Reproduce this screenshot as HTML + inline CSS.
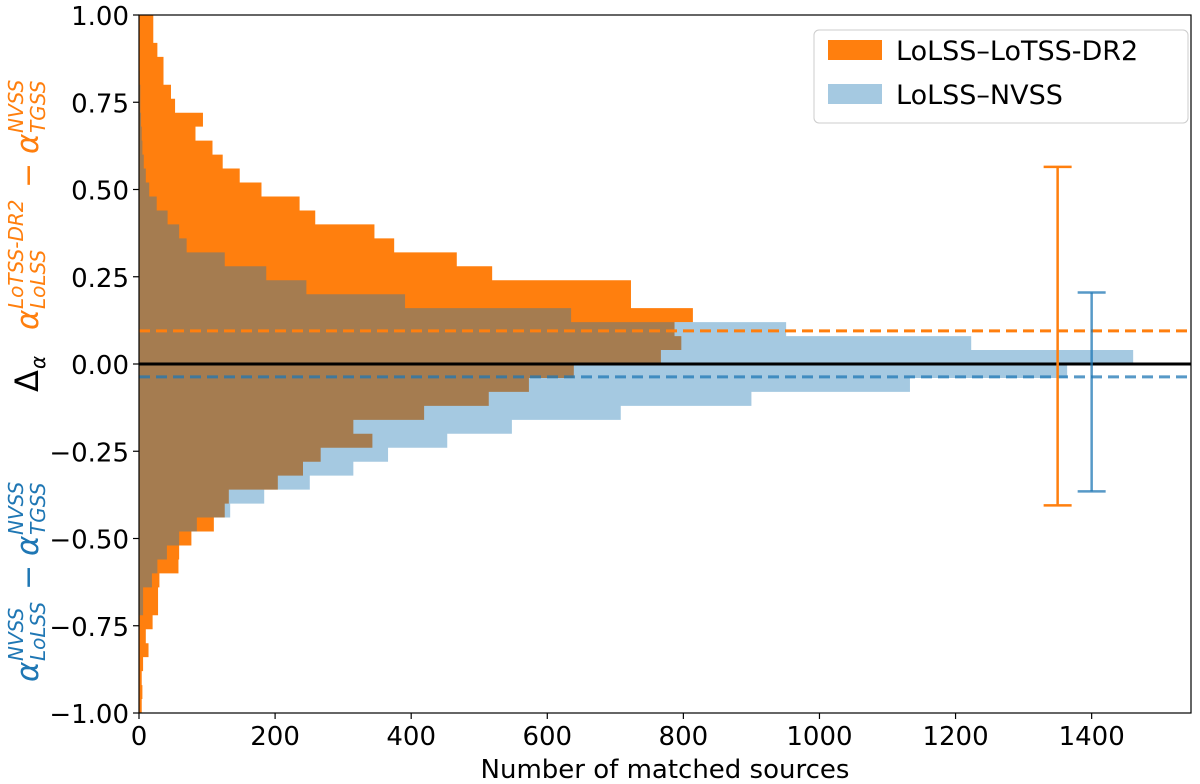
<!DOCTYPE html>
<html><head><meta charset="utf-8"><style>
body{margin:0;background:#fff;}
svg{display:block;font-family:"DejaVu Sans","Liberation Sans",sans-serif;}
</style></head><body>
<svg id="chart" width="1200" height="784" viewBox="0 0 1200 784" xmlns="http://www.w3.org/2000/svg">
<g id="plot"></g>
<g id="axes"></g>
<g>
  <g transform="translate(38,330) rotate(-90)" fill="#ff7f0e">
    <text x="0" y="0" font-size="31" font-style="italic">α</text>
    <text x="21" y="-15" font-size="20" font-style="italic">LoTSS-DR2</text>
    <text x="21" y="7" font-size="20" font-style="italic">LoLSS</text>
    <text x="142" y="0" font-size="30">−</text>
    <text x="176" y="0" font-size="31" font-style="italic">α</text>
    <text x="197" y="-15" font-size="20" font-style="italic">NVSS</text>
    <text x="197" y="7" font-size="20" font-style="italic">TGSS</text>
  </g>
  <g transform="translate(38,392) rotate(-90)" fill="#000">
    <text x="0" y="0" font-size="32">Δ</text>
    <text x="23" y="7" font-size="20" font-style="italic">α</text>
  </g>
  <g transform="translate(38,682) rotate(-90)" fill="#1f77b4">
    <text x="0" y="0" font-size="31" font-style="italic">α</text>
    <text x="21" y="-15" font-size="20" font-style="italic">NVSS</text>
    <text x="21" y="7" font-size="20" font-style="italic">LoLSS</text>
    <text x="92" y="0" font-size="30">−</text>
    <text x="126" y="0" font-size="31" font-style="italic">α</text>
    <text x="147" y="-15" font-size="20" font-style="italic">NVSS</text>
    <text x="147" y="7" font-size="20" font-style="italic">TGSS</text>
  </g>
</g>
<text x="665" y="778" text-anchor="middle" font-size="26">Number of matched sources</text>
<g>
  <rect x="814" y="30" width="374" height="93" rx="5" fill="#fff" fill-opacity="0.8" stroke="#ccc"/>
  <rect x="828" y="40" width="54" height="20" fill="#ff7f0e"/>
  <text x="896" y="60" font-size="27">LoLSS–LoTSS-DR2</text>
  <rect x="828" y="84" width="54" height="20" fill="#1f77b4" fill-opacity="0.4"/>
  <text x="896" y="104" font-size="27">LoLSS–NVSS</text>
</g>
</svg>
<script>
// bins: lower edges from -1.00 to 0.96, width 0.04
const binWidth = 0.04;
const binStarts = [];
for (let i = 0; i < 50; i++) binStarts.push(-1 + i * binWidth);
// counts from bottom (-1.00) to top (1.00)
const lotssCounts = [4,5,4,6,14,10,20,28,28,30,58,59,77,110,126,132,204,241,267,343,315,419,514,573,639,
  767,797,787,814,723,723,519,467,375,346,259,236,180,148,123,108,83,94,53,47,36,36,27,21,21];
const nvssCounts = [0,0,0,0,0,0,1,6,6,19,27,41,59,85,134,184,251,315,366,453,548,708,900,1133,1364,
  1461,1223,951,635,391,246,187,126,70,59,42,26,15,10,7,5,4,3,2,2,1,0,0,0,0];
const errX = [1350, 1400];
const errLow = [-0.405, -0.365];
const errHigh = [0.565, 0.205];
const meanLines = [0.095, -0.037];
const xTicks = [0,200,400,600,800,1000,1200,1400];
const yTicks = [-1.00,-0.75,-0.50,-0.25,0.00,0.25,0.50,0.75,1.00];

const L = 139, R = 1191, T = 15, B = 713;
const xMax = 1546;
const sx = v => L + v / xMax * (R - L);
const sy = v => T + (1 - v) / 2 * (B - T);
const NS = "http://www.w3.org/2000/svg";
const plot = document.getElementById('plot');
const axes = document.getElementById('axes');
function mk(tag, attrs, parent) {
  const e = document.createElementNS(NS, tag);
  for (const k in attrs) e.setAttribute(k, attrs[k]);
  parent.appendChild(e);
  return e;
}
function histPath(counts) {
  let d = `M${sx(0)},${sy(binStarts[0])}`;
  for (let i = 0; i < counts.length; i++) {
    d += ` L${sx(counts[i])},${sy(binStarts[i])} L${sx(counts[i])},${sy(binStarts[i] + binWidth)}`;
  }
  d += ` L${sx(0)},${sy(binStarts[binStarts.length - 1] + binWidth)} Z`;
  return d;
}
const p1 = mk('path', {d: histPath(lotssCounts), fill: '#ff7f0e'}, plot);


const p2 = mk('path', {d: histPath(nvssCounts), fill: '#1f77b4', 'fill-opacity': 0.4}, plot);



const zl = mk('line', {x1: L, x2: R, y1: sy(0), y2: sy(0), stroke: '#000', 'stroke-width': 3}, plot);


const colors = ['#ff7f0e', '#1f77b4'];
meanLines.forEach((m, i) => {
  const l = mk('line', {x1: L, x2: R, y1: sy(m), y2: sy(m), stroke: colors[i], 'stroke-width': 3, 'stroke-dasharray': '11 6', 'stroke-opacity': i ? 0.75 : 1}, plot);
  
  
});
errX.forEach((x, i) => {
  const g = mk('g', {stroke: colors[i], 'stroke-width': 2.5, 'stroke-opacity': i ? 0.75 : 1}, plot);
  
  
  mk('line', {x1: sx(x), x2: sx(x), y1: sy(errLow[i]), y2: sy(errHigh[i])}, g);
  mk('line', {x1: sx(x) - 14, x2: sx(x) + 14, y1: sy(errLow[i]), y2: sy(errLow[i])}, g);
  mk('line', {x1: sx(x) - 14, x2: sx(x) + 14, y1: sy(errHigh[i]), y2: sy(errHigh[i])}, g);
});

const frame = mk('rect', {x: L, y: T, width: R - L, height: B - T, fill: 'none', stroke: '#000', 'stroke-width': 1.2}, axes);


xTicks.forEach(v => {
  mk('line', {x1: sx(v), x2: sx(v), y1: B, y2: B + 6, stroke: '#000', 'stroke-width': 1.2}, axes);
  const t = mk('text', {x: sx(v), y: B + 32, 'text-anchor': 'middle', 'font-size': 26}, axes);
  t.textContent = v;
  
  
});
yTicks.forEach(v => {
  mk('line', {x1: L - 6, x2: L, y1: sy(v), y2: sy(v), stroke: '#000', 'stroke-width': 1.2}, axes);
  const t = mk('text', {x: L - 10, y: sy(v) + 10, 'text-anchor': 'end', 'font-size': 26}, axes);
  t.textContent = (v < 0 ? '−' : '') + Math.abs(v).toFixed(2);
  
  
});
</script>
</body></html>
